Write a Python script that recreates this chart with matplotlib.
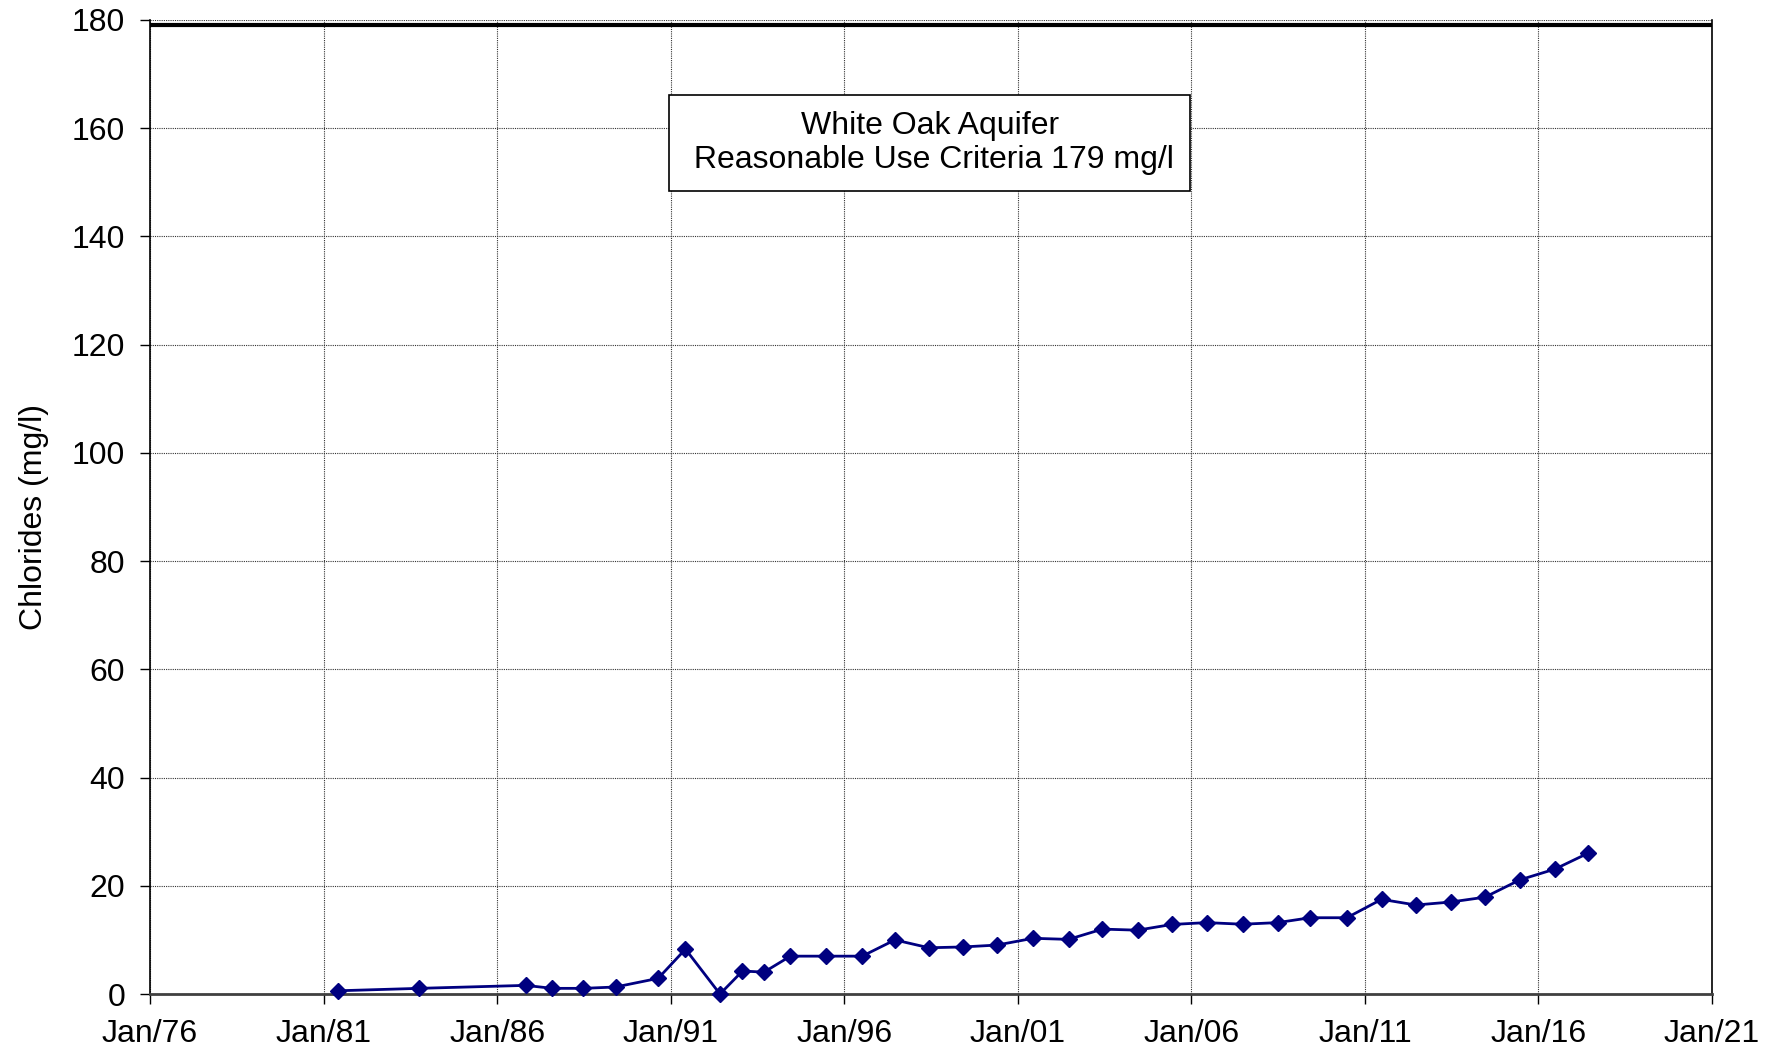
import pandas as pd
import matplotlib.pyplot as plt
import matplotlib.dates as mdates

plt.rcParams['font.family'] = ['Liberation Sans', 'DejaVu Sans']

# sample dates and chloride values in mg/l
dates = ["1981-05-28", "1983-10-01", "1986-10-27", "1987-08-04", "1988-06-25",
         "1989-05-30", "1990-08-22", "1991-06-05", "1992-06-02", "1993-01-25",
         "1993-09-09", "1994-06-13", "1995-06-20", "1996-07-08", "1997-06-17",
         "1998-06-10", "1999-06-03", "2000-05-26", "2001-06-10", "2002-06-18",
         "2003-06-10", "2004-06-14", "2005-06-06", "2006-06-10", "2007-06-25",
         "2008-06-28", "2009-06-03", "2010-06-25", "2011-06-25", "2012-06-20",
         "2013-06-20", "2014-06-17", "2015-06-20", "2016-06-24", "2017-06-03"]
chlorides = [0.6, 1.05, 1.6, 1.05, 1.05, 1.3, 2.9, 8.3, 0.0, 4.25,
             4.05, 7.0, 7.0, 7.0, 10.0, 8.55, 8.7, 9.05, 10.3, 10.1,
             12.0, 11.8, 12.85, 13.2, 12.9, 13.2, 14.1, 14.1, 17.5, 16.45,
             17.0, 17.9, 21.1, 23.1, 26.0]
criteria = 179
tick_years = list(range(1976, 2022, 5))

x = pd.to_datetime(dates)

fig = plt.figure(figsize=(17.76, 10.52), dpi=100)
ax = fig.add_axes([0.0845, 0.0551, 0.964 - 0.0845, 0.981 - 0.0551])

# reasonable use criteria line
ax.axhline(criteria, color="black", linewidth=3, zorder=3)

ax.plot(x, chlorides, color="#000080", linewidth=2, marker="D",
        markersize=8.5, zorder=4, clip_on=False)

ax.set_xlim(pd.Timestamp("1976-01-01"), pd.Timestamp("2021-01-01"))
ax.set_ylim(0, 180)
ax.set_xticks([pd.Timestamp(f"{y}-01-01") for y in tick_years])
ax.xaxis.set_major_formatter(mdates.DateFormatter("%b/%y"))
ax.set_yticks(range(0, 181, 20))

ax.grid(True, color="#333333", linestyle=(0, (1, 1)), linewidth=0.8)
ax.set_axisbelow(True)
ax.tick_params(axis="both", direction="out", length=7, width=1,
               labelsize=23, colors="black")
ax.tick_params(axis="x", pad=11)
ax.tick_params(axis="y", pad=11)

ax.spines["top"].set_visible(False)
ax.spines["left"].set_linewidth(1.2)
ax.spines["right"].set_linewidth(1.2)
ax.spines["bottom"].set_color("#404040")
ax.spines["bottom"].set_linewidth(2)

ax.set_ylabel("Chlorides (mg/l)", fontsize=23)
ax.yaxis.set_label_coords(-0.065, 0.49)

ax.text(pd.Timestamp("1998-06-20"), 157.3,
        "White Oak Aquifer\n Reasonable Use Criteria 179 mg/l",
        ha="center", va="center", fontsize=23, linespacing=1.15, zorder=5,
        bbox=dict(boxstyle="square,pad=0.5", facecolor="white",
                  edgecolor="black", linewidth=1.2))

fig.savefig("out.png", dpi=100, facecolor="white")
